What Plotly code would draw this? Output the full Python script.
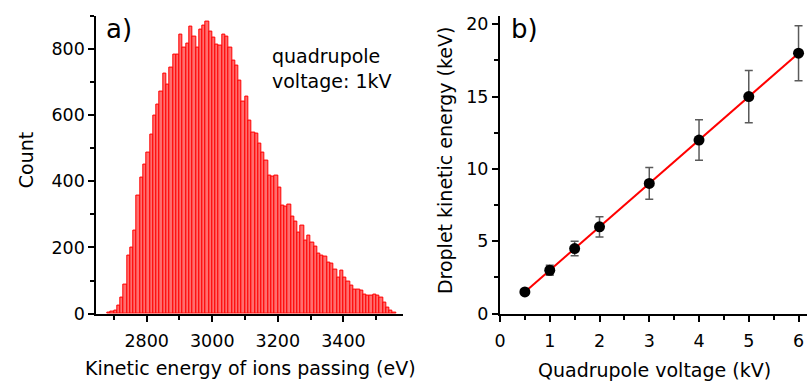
import numpy as np
import plotly.graph_objects as go

# ---- panel a): ion kinetic energy histogram (10 eV bins) ----
bin_centers = [
    2685, 2695, 2705, 2715, 2725, 2735, 2745, 2755, 2765, 2775,
    2785, 2795, 2805, 2815, 2825, 2835, 2845, 2855, 2865, 2875,
    2885, 2895, 2905, 2915, 2925, 2935, 2945, 2955, 2965, 2975,
    2985, 2995, 3005, 3015, 3025, 3035, 3045, 3055, 3065, 3075,
    3085, 3095, 3105, 3115, 3125, 3135, 3145, 3155, 3165, 3175,
    3185, 3195, 3205, 3215, 3225, 3235, 3245, 3255, 3265, 3275,
    3285, 3295, 3305, 3315, 3325, 3335, 3345, 3355, 3365, 3375,
    3385, 3395, 3405, 3415, 3425, 3435, 3445, 3455, 3465, 3475,
    3485, 3495, 3505, 3515, 3525, 3535, 3545, 3555,
]
counts = [
    3, 5, 8, 25, 50, 88, 176, 201, 250, 357,
    411, 451, 487, 540, 597, 631, 671, 724, 693, 744,
    783, 781, 844, 803, 815, 866, 837, 803, 857, 871,
    881, 852, 834, 811, 808, 842, 837, 803, 764, 749,
    705, 641, 656, 583, 548, 543, 514, 485, 463, 418,
    413, 416, 380, 326, 323, 330, 294, 279, 246, 267,
    220, 236, 215, 204, 181, 175, 173, 155, 152, 133,
    110, 130, 108, 96, 86, 73, 72, 69, 59, 56,
    54, 59, 55, 49, 34, 18, 9, 4,
]
bin_width = 10

# ---- panel b): droplet energy vs quadrupole voltage ----
voltage_kv = [0.5, 1, 1.5, 2, 3, 4, 5, 6]
energy_kev = [1.5, 3, 4.5, 6, 9, 12, 15, 18]
energy_err = [0.2, 0.35, 0.5, 0.7, 1.1, 1.4, 1.8, 1.9]

slope, intercept = np.polyfit(voltage_kv, energy_kev, 1)
fit_x = [min(voltage_kv), max(voltage_kv)]
fit_y = [slope * v + intercept for v in fit_x]

W, H = 807, 392
FONT = "DejaVu Sans"


def px_x(p):
    return p / W


def px_y(p):
    return 1 - p / H


fig = go.Figure()

fig.add_trace(go.Bar(
    x=bin_centers, y=counts, width=bin_width,
    marker=dict(color="rgb(255,110,110)", line=dict(color="rgb(255,0,0)", width=1)),
    xaxis="x", yaxis="y", showlegend=False,
))

fig.add_trace(go.Scatter(
    x=fit_x, y=fit_y, mode="lines",
    line=dict(color="rgb(255,0,0)", width=2),
    xaxis="x2", yaxis="y2", showlegend=False,
))

fig.add_trace(go.Scatter(
    x=voltage_kv, y=energy_kev, mode="markers",
    marker=dict(color="black", size=11),
    error_y=dict(type="data", array=energy_err, color="rgb(90,90,90)", thickness=1.5, width=4),
    xaxis="x2", yaxis="y2", showlegend=False,
))

axis_common = dict(
    showline=True, linecolor="black", linewidth=2, mirror=False,
    ticks="outside", ticklen=6, tickwidth=1.5, tickcolor="black",
    showgrid=False, zeroline=False,
    tickfont=dict(family=FONT, size=17.5, color="black"),
)

y_bottom = px_y(321.7)
y_top = px_y(15)

fig.update_layout(
    width=W, height=H,
    margin=dict(l=0, r=0, t=0, b=0),
    paper_bgcolor="white", plot_bgcolor="white",
    bargap=0,
    font=dict(family=FONT, color="black"),
    xaxis=dict(
        domain=[px_x(91), px_x(400)], range=[2646.6, 3581.6],
        tickmode="linear", tick0=2800, dtick=200, ticklabelstandoff=4,
        minor=dict(ticks="outside", ticklen=4, tickwidth=1.5, tickcolor="black", dtick=100, tick0=2800),
        anchor="y", **axis_common,
    ),
    yaxis=dict(
        domain=[y_bottom, y_top], range=[0, 900],
        tickmode="linear", tick0=0, dtick=200,
        minor=dict(ticks="outside", ticklen=4, tickwidth=1.5, tickcolor="black", dtick=100, tick0=0),
        anchor="x", **axis_common,
    ),
    xaxis2=dict(
        domain=[px_x(497.7), 1.0], range=[0, 6.17],
        tickmode="linear", tick0=0, dtick=1, ticklabelstandoff=4,
        minor=dict(ticks="outside", ticklen=4, tickwidth=1.5, tickcolor="black", dtick=0.5, tick0=0),
        anchor="y2", **axis_common,
    ),
    yaxis2=dict(
        domain=[y_bottom, y_top], range=[0, 20.6],
        tickmode="linear", tick0=0, dtick=5,
        minor=dict(ticks="outside", ticklen=4, tickwidth=1.5, tickcolor="black", dtick=2.5, tick0=0),
        anchor="x2", **axis_common,
    ),
)

title_font = dict(family=FONT, size=19, color="black")
annotations = [
    dict(text="Count", x=px_x(21), y=px_y(164), textangle=-90, font=title_font),
    dict(text="Kinetic energy of ions passing (eV)", x=px_x(246.5), y=px_y(378), font=title_font),
    dict(text="Quadrupole voltage (kV)", x=px_x(653.5), y=px_y(380), font=title_font),
    dict(text="Droplet kinetic energy (keV)", x=px_x(443), y=px_y(164), textangle=-90, font=title_font),
    dict(text="a)", x=px_x(99), y=px_y(29), xanchor="left", font=dict(family=FONT, size=26, color="black")),
    dict(text="b)", x=px_x(507), y=px_y(29), xanchor="left", font=dict(family=FONT, size=26, color="black")),
    dict(text="quadrupole<br>voltage: 1kV", x=px_x(266), y=px_y(43), xanchor="left", yanchor="top",
         align="left", font=title_font),
]
for a in annotations:
    a.setdefault("xanchor", "center")
    a.setdefault("yanchor", "middle")
    fig.add_annotation(xref="paper", yref="paper", showarrow=False, **a)

fig.write_html("out.html")
